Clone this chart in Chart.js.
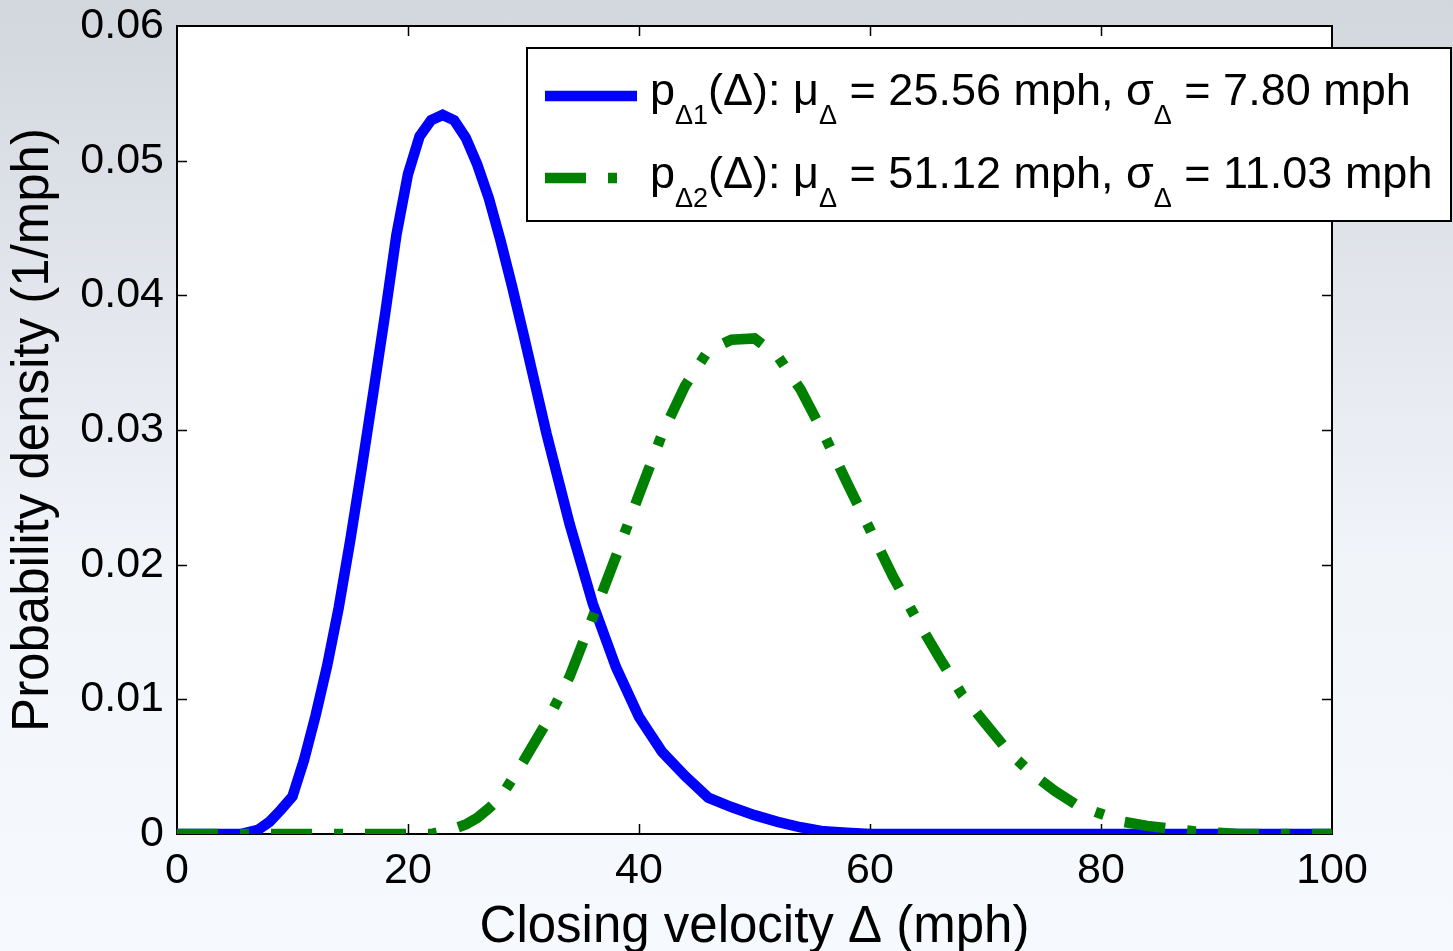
<!DOCTYPE html>
<html>
<head>
<meta charset="utf-8">
<script src="https://cdn.jsdelivr.net/npm/chart.js@4.4.1/dist/chart.umd.min.js"></script>
<style>
  html, body { margin: 0; padding: 0; overflow: hidden; }
  #wrap {
    width: 1453px; height: 951px; position: relative;
    background: linear-gradient(to bottom, #d2d6dd 0%, #e2e6ec 30%, #f1f4f9 60%, #f6f9fd 100%);
  }
  canvas { display: block; }
</style>
</head>
<body>
<div id="wrap"><canvas id="pdfChart" width="1453" height="951"></canvas></div>
<script>
// closing velocity (mph) and density (1/mph)
const velocity1 = [0, 2, 4, 5.5, 7, 8, 9, 10, 11, 12, 13, 14, 15, 16, 17, 18, 19, 20, 21, 22, 23, 24, 25, 26, 27, 28, 29, 30,
  32, 34, 36, 38, 40, 42, 44, 46, 48, 50, 52, 54, 56, 58, 60, 70, 80, 90, 100];
const density1 = [0, 0, 0, 0, 0.0003, 0.0009, 0.0018, 0.0028, 0.0055, 0.0088, 0.0125, 0.0168, 0.0218, 0.0272, 0.0328, 0.0385,
  0.0445, 0.0490, 0.0518, 0.0530, 0.0534, 0.0530, 0.0517, 0.0497, 0.0472, 0.0441, 0.0407, 0.0371,
  0.0297, 0.0230, 0.0171, 0.0124, 0.0087, 0.0061, 0.0043, 0.0027, 0.0020, 0.0014, 0.0009, 0.0005, 0.0002, 0.0001, 0, 0, 0, 0, 0];

const velocity2 = [0, 10, 20, 22, 23, 24, 25, 26, 27, 28, 30, 32, 34, 36, 38, 40, 42, 44, 46, 48, 50, 52, 54, 56, 58, 60,
  62, 64, 66, 68, 70, 72, 74, 76, 78, 80, 82, 84, 86, 88, 90, 92, 100];
const density2 = [0, 0, 0, 0, 0.0002, 0.0004, 0.0007, 0.0012, 0.0019, 0.0027, 0.0054, 0.0083, 0.0117, 0.0161, 0.0206, 0.0252,
  0.0297, 0.0333, 0.0359, 0.0367, 0.0368, 0.0355, 0.0330, 0.0297, 0.0261, 0.0226, 0.0191, 0.0160, 0.0131, 0.0103,
  0.0082, 0.0061, 0.0045, 0.0032, 0.0021, 0.0015, 0.0009, 0.0006, 0.0004, 0.0002, 0.0001, 0, 0];

const seriesMu = [25.56, 51.12];
const seriesSigma = [7.80, 11.03];
const xTicks = [0, 20, 40, 60, 80, 100];
const yTicks = [0, 0.01, 0.02, 0.03, 0.04, 0.05, 0.06];

const FONT = '"Liberation Sans", Arial, Helvetica, sans-serif';
const toPoints = (xs, ys) => xs.map((x, i) => ({ x: x, y: ys[i] }));

// white axes background + MATLAB style box with inward ticks
const axesBox = {
  id: 'axesBox',
  beforeDraw(chart) {
    const { ctx, chartArea: a } = chart;
    ctx.save();
    ctx.fillStyle = '#ffffff';
    ctx.fillRect(a.left, a.top, a.right - a.left, a.bottom - a.top);
    ctx.restore();
  },
  beforeDatasetsDraw(chart) {
    const { ctx, chartArea: a, scales } = chart;
    ctx.save();
    ctx.strokeStyle = '#000';
    ctx.lineWidth = 2;
    ctx.strokeRect(a.left, a.top, a.right - a.left, a.bottom - a.top);
    ctx.beginPath();
    xTicks.slice(1, -1).forEach(v => {
      const px = Math.round(scales.x.getPixelForValue(v)) + 0.5;
      ctx.moveTo(px, a.bottom); ctx.lineTo(px, a.bottom - 10);
      ctx.moveTo(px, a.top); ctx.lineTo(px, a.top + 10);
    });
    yTicks.slice(1, -1).forEach(v => {
      const py = Math.round(scales.y.getPixelForValue(v)) + 0.5;
      ctx.moveTo(a.left, py); ctx.lineTo(a.left + 10, py);
      ctx.moveTo(a.right, py); ctx.lineTo(a.right - 10, py);
    });
    ctx.lineWidth = 1.5;
    ctx.stroke();
    ctx.restore();
  }
};

// legend with subscripts, drawn by hand
const richLegend = {
  id: 'richLegend',
  afterDraw(chart) {
    const ctx = chart.ctx;
    ctx.save();
    ctx.fillStyle = '#fff';
    ctx.fillRect(527, 48, 924, 173);
    ctx.strokeStyle = '#000';
    ctx.lineWidth = 2;
    ctx.strokeRect(527, 48, 924, 173);
    const rows = [{ line: 96, base: 105 }, { line: 178, base: 188 }];
    chart.data.datasets.slice().sort((a, b) => a.idx - b.idx).forEach(ds => {
      const i = ds.idx, r = rows[i];
      ctx.save();
      ctx.strokeStyle = ds.borderColor;
      ctx.lineWidth = ds.borderWidth;
      ctx.lineCap = 'butt';
      ctx.setLineDash(ds.borderDash || []);
      ctx.beginPath();
      ctx.moveTo(545, r.line); ctx.lineTo(637, r.line);
      ctx.stroke();
      ctx.restore();
      const parts = [
        ['p', 0], ['\u0394' + (i + 1), 1], ['(\u0394): \u03bc', 0], ['\u0394', 1],
        [' = ' + seriesMu[i].toFixed(2) + ' mph, \u03c3', 0], ['\u0394', 1],
        [' = ' + seriesSigma[i].toFixed(2) + ' mph', 0]
      ];
      let x = 650;
      ctx.fillStyle = '#000';
      ctx.textBaseline = 'alphabetic';
      parts.forEach(([t, sub]) => {
        ctx.font = (sub ? '27px ' : '45px ') + FONT;
        ctx.fillText(t, x, sub ? r.base + 19 : r.base);
        x += ctx.measureText(t).width;
      });
    });
    ctx.restore();
  }
};

const ctx = document.getElementById('pdfChart').getContext('2d');
new Chart(ctx, {
  type: 'line',
  data: {
    datasets: [
      {
        idx: 1,
        label: 'p\u03942',
        data: toPoints(velocity2, density2),
        borderColor: '#008000',
        borderWidth: 10.5,
        borderDash: [41, 22, 9, 22],
        borderCapStyle: 'butt',
        pointRadius: 0,
        tension: 0,
        order: 0
      },
      {
        idx: 0,
        label: 'p\u03941',
        data: toPoints(velocity1, density1),
        borderColor: '#0000ff',
        borderWidth: 10.5,
        pointRadius: 0,
        tension: 0,
        order: 1
      }
    ]
  },
  options: {
    responsive: false,
    animation: false,
    devicePixelRatio: 1,
    layout: { padding: { top: 26, right: 121, left: 0, bottom: 0 } },
    scales: {
      x: {
        type: 'linear',
        min: 0, max: 100,
        afterFit: s => { s.height = 951 - 834; s.paddingLeft = 0; s.paddingRight = 0; },
        afterBuildTicks: s => { s.ticks = xTicks.map(v => ({ value: v })); },
        grid: { display: false, drawTicks: false },
        border: { display: false },
        ticks: { color: '#000', padding: 16, font: { family: FONT, size: 43, lineHeight: 1 }, maxRotation: 0 },
        title: {
          display: true,
          text: 'Closing velocity \u0394 (mph)',
          color: '#000',
          font: { family: FONT, size: 51, lineHeight: 1 },
          padding: { top: 0, bottom: -2 }
        }
      },
      y: {
        min: 0, max: 0.06,
        afterFit: s => { s.width = 177; s.paddingTop = 0; s.paddingBottom = 0; },
        afterBuildTicks: s => { s.ticks = yTicks.map(v => ({ value: v })); },
        grid: { display: false, drawTicks: false },
        border: { display: false },
        ticks: {
          color: '#000', padding: 13,
          font: { family: FONT, size: 43, lineHeight: 1 },
          callback: v => (v === 0 ? '0' : v.toFixed(2))
        },
        title: {
          display: true,
          text: 'Probability density (1/mph)',
          color: '#000',
          font: { family: FONT, size: 51, lineHeight: 1 },
          padding: { top: 8.5, bottom: 0 }
        }
      }
    },
    plugins: {
      legend: { display: false },
      tooltip: { enabled: false }
    }
  },
  plugins: [axesBox, richLegend]
});
</script>
</body>
</html>
